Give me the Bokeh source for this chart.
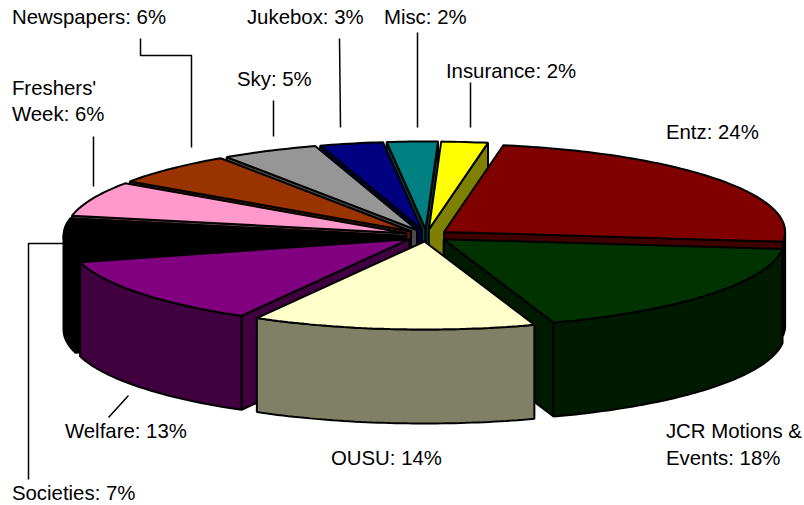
import math
from bokeh.plotting import figure
from bokeh.models import Range1d
from bokeh.core.properties import value
from bokeh.embed import file_html
from bokeh.resources import INLINE

# Data
categories = ["Entz", "JCR Motions & Events", "OUSU", "Welfare", "Societies", "Freshers' Week",
              "Newspapers", "Sky", "Jukebox", "Misc", "Insurance"]
# Sweep of each slice (percent of the full turn)
shares = [24, 18, 13.4, 12.6, 7.4, 6.4, 6.0, 4.6, 3.0, 2.4, 2.2]
top_colors = ["#800000", "#003300", "#FFFFCC", "#800080", "#000000", "#FF99CC",
              "#993300", "#969696", "#000080", "#008080", "#FFFF00"]
wall_colors = ["#400000", "#001A00", "#808066", "#400040", "#000000", "#804D66",
               "#4D1A00", "#4B4B4B", "#000040", "#004040", "#808000"]

# Label layout (text, x, baseline y in page pixels)
label_texts = ["Newspapers: 6%", "Jukebox: 3%", "Misc: 2%", "Insurance: 2%", "Entz: 24%", "Sky: 5%",
               "Freshers'", "Week: 6%", "Societies: 7%", "Welfare: 13%", "OUSU: 14%",
               "JCR Motions &", "Events: 18%"]
label_x = [12, 247, 384, 446, 666, 237, 12, 12, 12, 65, 331, 666, 666]
label_y = [24, 24, 24, 78, 139, 86, 95, 121, 500, 438, 465, 438, 465]

# Leader lines
leader_x = [[140, 140, 191, 191], [339, 340], [273, 273], [417, 417], [470, 470], [93, 93],
            [65, 28, 28], [128, 108]]
leader_y = [[38, 55, 55, 147], [38, 127], [100, 136], [32, 127], [82, 127], [136, 186],
            [243, 243, 479], [395, 417]]

# Pie projection
CX, CY, A, B, DEPTH = 426.0, 235.0, 341.0, 88.0, 94.0
EX, EY = 22.0, 6.0
START = 10.0

p = figure(width=804, height=505, output_backend="svg", toolbar_location=None,
           x_range=Range1d(0, 804), y_range=Range1d(505, 0), min_border=0)
p.axis.visible = False
p.grid.visible = False
p.outline_line_color = None
p.background_fill_color = "white"
p.border_fill_color = "white"


def rim(cx, cy, t0, t1, dz=0.0):
    n = max(2, int(abs(t1 - t0)) + 2)
    xs, ys = [], []
    for i in range(n):
        t = math.radians(t0 + (t1 - t0) * i / (n - 1))
        xs.append(cx + A * math.sin(t))
        ys.append(cy - B * math.cos(t) + dz)
    return xs, ys


slices = []
a0 = START
for i, s in enumerate(shares):
    a1 = a0 + s * 3.6
    slices.append((i, a0, a1, (a0 + a1) / 2))
    a0 = a1
slices.sort(key=lambda q: -math.cos(math.radians(q[3])))

LW = 2.0
for i, t0, t1, m in slices:
    r = math.radians(m)
    cx = CX + EX * math.sin(r)
    cy = CY - EY * math.cos(r)
    wall = wall_colors[i]
    faces = []
    if math.sin(math.radians(t0)) < 0:
        faces.append(t0)
    if math.sin(math.radians(t1)) > 0:
        faces.append(t1)
    for t in faces:
        x, y = rim(cx, cy, t, t, 0)
        px, py = x[0], y[0]
        p.patch([cx, px, px, cx], [cy, py, py + DEPTH, cy + DEPTH],
                fill_color=wall, line_color="black", line_width=LW)
    w0, w1 = max(t0, 90.0), min(t1, 270.0)
    if w1 > w0:
        xa, ya = rim(cx, cy, w0, w1)
        xb, yb = rim(cx, cy, w1, w0, DEPTH)
        p.patch(xa + xb, ya + yb, fill_color=wall, line_color="black", line_width=LW)
    xa, ya = rim(cx, cy, t0, t1)
    p.patch([cx] + xa, [cy] + ya, fill_color=top_colors[i], line_color="black", line_width=LW)

p.multi_line(leader_x, leader_y, line_color="black", line_width=1.5)
p.text(label_x, label_y, text=label_texts, text_font=value("Liberation Sans"),
       text_font_size="20.4px", text_color="#000000", text_align="left", text_baseline="alphabetic",
       x_offset=-0.6, y_offset=-8)

open("out.html", "w").write(file_html(p, INLINE))
